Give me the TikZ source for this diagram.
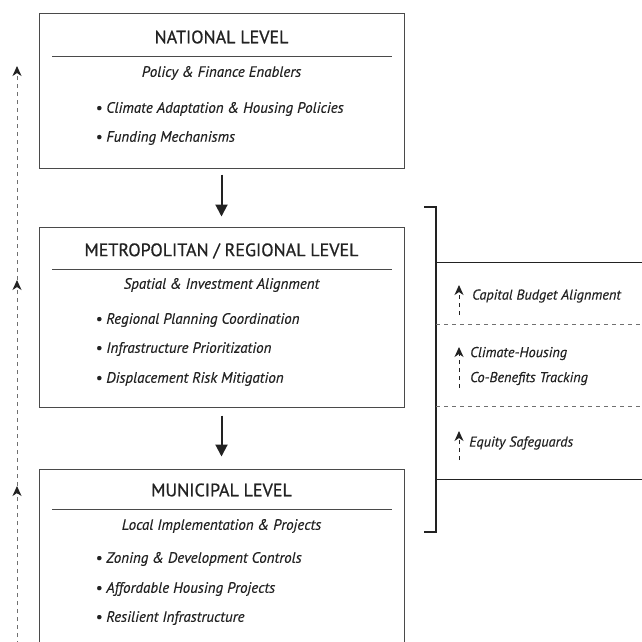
\documentclass[tikz,border=0pt]{standalone}
\usepackage{fontspec}
\setmainfont{PT Sans}
\usetikzlibrary{arrows.meta, positioning}
\definecolor{ink}{HTML}{222222}
\definecolor{frame}{HTML}{4A4A4A}
\definecolor{trace}{HTML}{707070}

\begin{document}
\begin{tikzpicture}[
  x=1pt, y=-1pt,
  level/.style={draw=frame, line width=1pt, minimum width=365pt, inner sep=0pt},
  title/.style={font=\fontsize{18}{21}\selectfont\addfontfeature{FakeBold=0.8}, text=ink},
  subtitle/.style={font=\fontsize{15}{18}\selectfont\itshape\addfontfeature{FakeBold=0.3}, text=ink},
  item/.style={font=\fontsize{15}{18}\selectfont\itshape\addfontfeature{FakeBold=0.3}, text=ink, anchor=west},
  note/.style={font=\fontsize{14.3}{25}\selectfont\itshape\addfontfeature{FakeBold=0.3}, text=ink, anchor=west, align=left, inner sep=0pt},
  rule/.style={draw=frame, line width=0.8pt},
  flow/.style={-{Triangle[length=12pt, width=12pt]}, line width=2pt, color=ink},
  feedback/.style={-{Stealth[length=10pt, width=9pt, inset=3pt, color=ink, fill=ink]}, dash pattern=on 4pt off 4pt, color=trace, line width=1pt},
  bracket/.style={draw=ink, line width=1.2pt}
]
  \clip (0,0) rectangle (642,641);

  % level boxes
  \node[level, minimum height=155pt] (nat) at (221.5,90.5) {};
  \node[level, minimum height=180pt] (metro) at (221.5,317) {};
  \node[level, minimum height=200pt] (muni) at (221.5,569) {};

  % national
  \node[title] (nat-title) at (221.5,37) {NATIONAL LEVEL};
  \draw[rule] (52,56) -- (392,56);
  \node[subtitle] (nat-sub) at (221.5,73) {Policy \& Finance Enablers};
  \node[item] (nat-a) at (92,109) {\textbullet{} Climate Adaptation \& Housing Policies};
  \node[item] (nat-b) at (92,138) {\textbullet{} Funding Mechanisms};

  % metropolitan
  \node[title] (metro-title) at (221.5,251) {METROPOLITAN / REGIONAL LEVEL};
  \draw[rule] (52,269) -- (392,269);
  \node[subtitle] (metro-sub) at (221.5,285) {Spatial \& Investment Alignment};
  \node[item] (metro-a) at (92,320) {\textbullet{} Regional Planning Coordination};
  \node[item] (metro-b) at (92,349) {\textbullet{} Infrastructure Prioritization};
  \node[item] (metro-c) at (92,379) {\textbullet{} Displacement Risk Mitigation};

  % municipal
  \node[title] (muni-title) at (221.5,490) {MUNICIPAL LEVEL};
  \draw[rule] (52,509) -- (392,509);
  \node[subtitle] (muni-sub) at (221.5,526) {Local Implementation \& Projects};
  \node[item] (muni-a) at (92,559) {\textbullet{} Zoning \& Development Controls};
  \node[item] (muni-b) at (92,589) {\textbullet{} Affordable Housing Projects};
  \node[item] (muni-c) at (92,618) {\textbullet{} Resilient Infrastructure};

  % top-down flow
  \draw[flow] ([yshift=-6pt]nat.south) -- ([yshift=10pt]metro.north);
  \draw[flow] ([yshift=-8pt]metro.south) -- ([yshift=12pt]muni.north);

  % feedback line
  \coordinate (fb-base) at (17,645);
  \coordinate (fb-muni) at (17,486);
  \coordinate (fb-metro) at (17,280);
  \coordinate (fb-nat) at (17,66);
  \draw[feedback] (fb-base) -- (fb-muni);
  \draw[feedback] (fb-muni) -- (fb-metro);
  \draw[feedback] (fb-metro) -- (fb-nat);

  % monitoring panel
  \draw[bracket] (424,207) -- (436,207) -- (436,532) -- (424,532);
  \draw[draw=ink, line width=1pt] (436,262) -- (642,262);
  \draw[draw=trace, dash pattern=on 4pt off 4pt, line width=0.8pt] (436,324) -- (642,324);
  \draw[draw=trace, dash pattern=on 4pt off 4pt, line width=0.8pt] (436,406) -- (642,406);
  \draw[draw=ink, line width=1pt] (436,479) -- (642,479);

  \node[note] (budget) at (472,296) {Capital Budget Alignment};
  \node[note] (cobenefit) at (470,366) {Climate-Housing\\Co-Benefits Tracking};
  \node[note] (equity) at (469,443) {Equity Safeguards};

  \coordinate (budget-tail) at (459,315);
  \coordinate (budget-tip) at (459,285);
  \coordinate (cobenefit-tail) at (459,388);
  \coordinate (cobenefit-tip) at (459,347);
  \coordinate (equity-tail) at (459,460);
  \coordinate (equity-tip) at (459,431);
  \draw[feedback, color=ink] (budget-tail) -- (budget-tip);
  \draw[feedback, color=ink] (cobenefit-tail) -- (cobenefit-tip);
  \draw[feedback, color=ink] (equity-tail) -- (equity-tip);
\end{tikzpicture}
\end{document}
